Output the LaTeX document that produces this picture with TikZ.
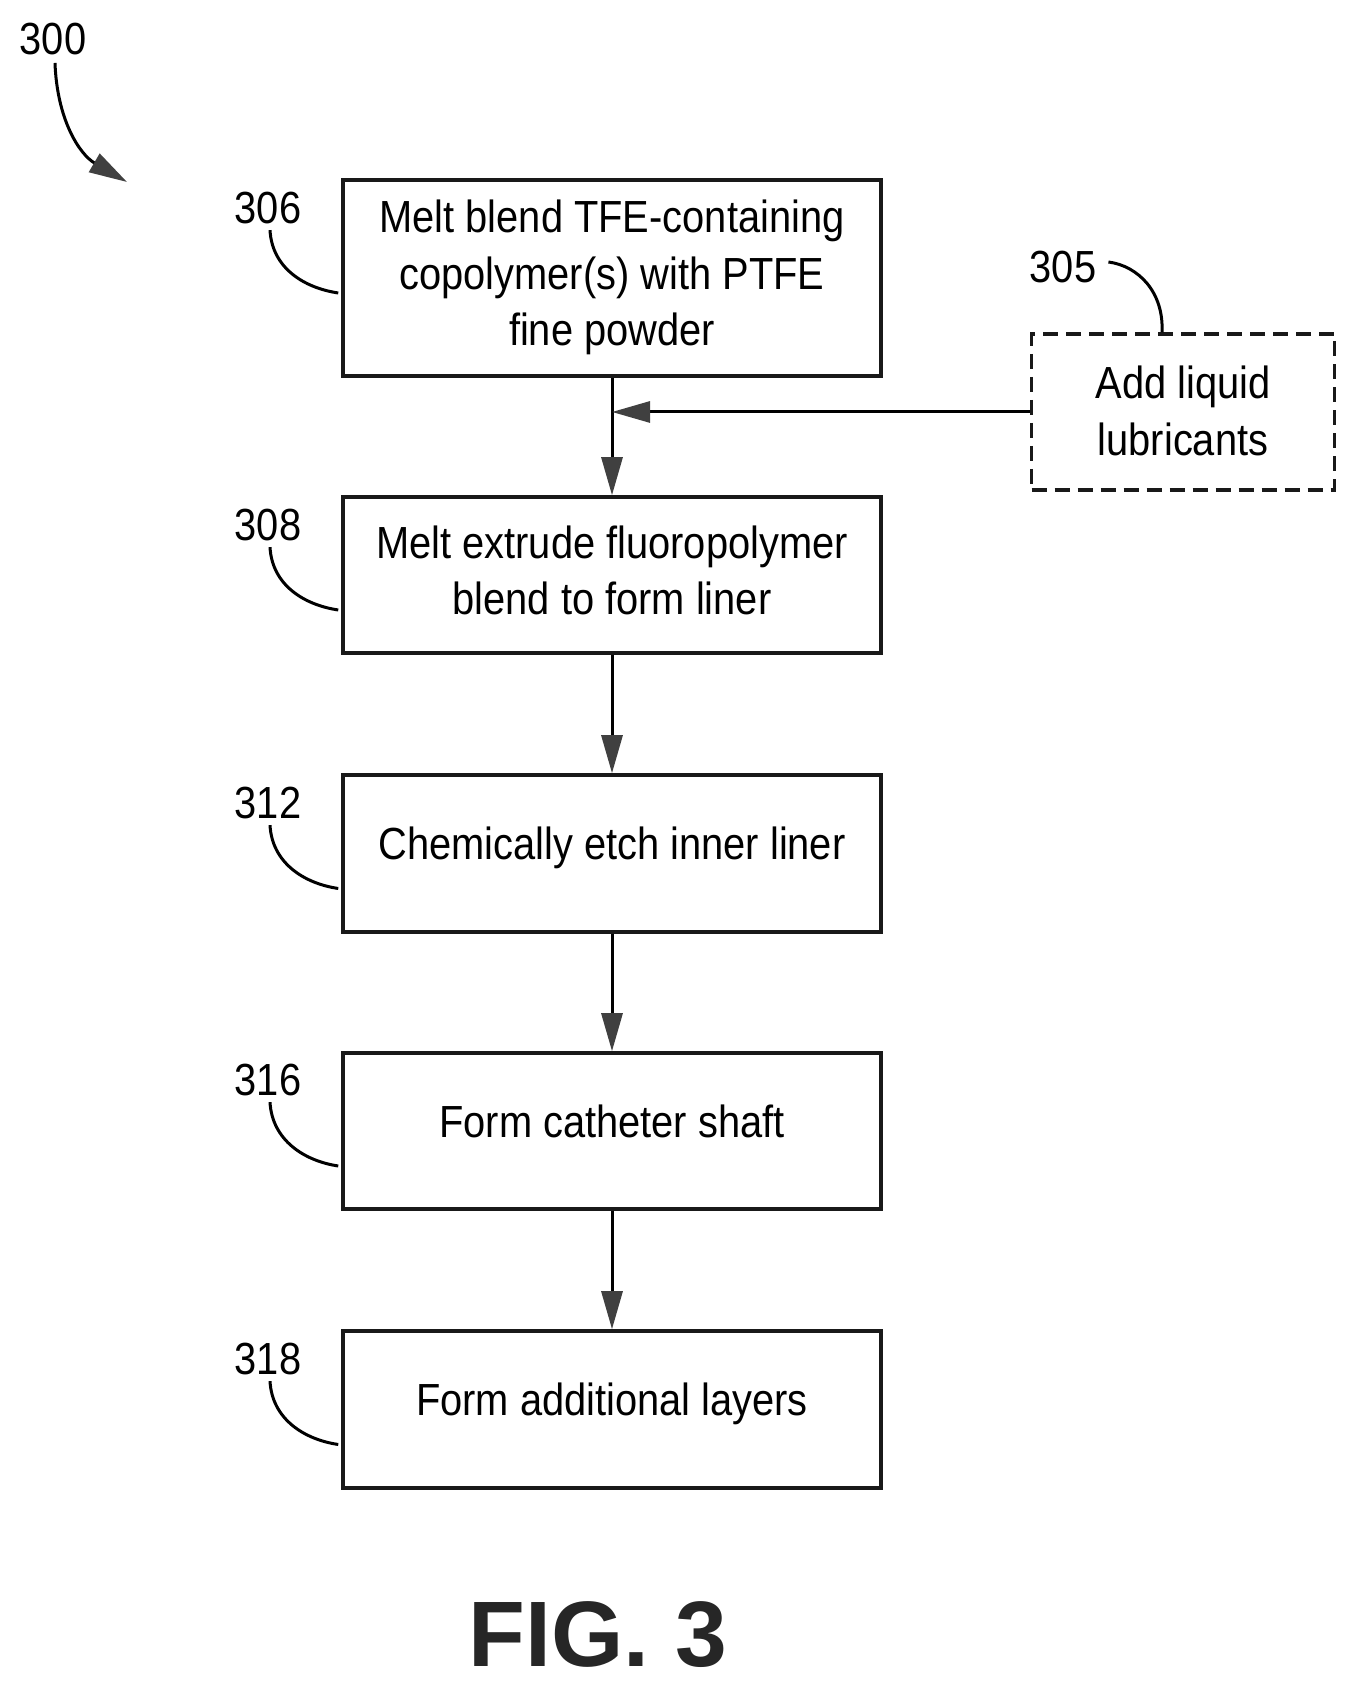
\documentclass[tikz,border=0pt]{standalone}
\usepackage{fontspec}
\setmainfont[FakeStretch=0.885]{Liberation Sans}
\newfontfamily\figfont{Liberation Sans}
\usetikzlibrary{arrows.meta, calc}

\tikzset{
  stepbox/.style={draw=black!90, line width=3.5pt, minimum width=538pt, inner sep=0pt},
  optbox/.style={draw=black!90, line width=3.5pt, dashed, dash pattern=on 15pt off 8pt, minimum width=303pt, minimum height=156pt, inner sep=0pt},
  reflabel/.style={inner sep=0pt},
  leader/.style={draw=black, line width=3pt},
  flow/.style={draw=black, line width=3pt, -{Triangle[length=38pt, width=21pt, color=black!75]}},
}

\begin{document}
\fontsize{45pt}{56.6pt}\selectfont
\renewcommand{\arraystretch}{1}
\setlength{\tabcolsep}{0pt}
\begin{tikzpicture}
\useasboundingbox (-1pt,1pt) rectangle (1355pt,1689pt);

%% Schritte %%%%%%%%%%%%%%%%%%%%%%%
\draw (611pt,1411pt) node (b306) [stepbox, minimum height=196pt]{
  \begin{tabular}{c}
    Melt blend TFE-containing\\ copolymer(s) with PTFE\\ fine powder
  \end{tabular}};

\draw (611pt,1114pt) node (b308) [stepbox, minimum height=156pt]{
  \begin{tabular}{c}
    Melt extrude fluoropolymer\\ blend to form liner
  \end{tabular}};

\draw (611pt,835.5pt) node (b312) [stepbox, minimum height=157pt]{
  \begin{tabular}{c}
    Chemically etch inner liner\rule[-28pt]{0pt}{0pt}
  \end{tabular}};

\draw (611pt,558pt) node (b316) [stepbox, minimum height=156pt]{
  \begin{tabular}{c}
    Form catheter shaft\rule[-26pt]{0pt}{0pt}
  \end{tabular}};

\draw (611pt,279.5pt) node (b318) [stepbox, minimum height=157pt]{
  \begin{tabular}{c}
    Form additional layers\rule[-28pt]{0pt}{0pt}
  \end{tabular}};

\draw (1182pt,1277pt) node (b305) [optbox]{
  \begin{tabular}{c}
    Add liquid\rule{0pt}{47pt}\\ lubricants
  \end{tabular}};

%% Labels
\draw (52pt,1650pt) node (l300) [reflabel]{300};
\draw (267pt,1481pt) node (l306) [reflabel]{306};
\draw (267pt,1164pt) node (l308) [reflabel]{308};
\draw (267pt,886pt) node (l312) [reflabel]{312};
\draw (267pt,609pt) node (l316) [reflabel]{316};
\draw (267pt,330pt) node (l318) [reflabel]{318};
\draw (1062pt,1422pt) node (l305) [reflabel]{305};

%% Figure
\draw (597pt,54pt) node (fig) [inner sep=0pt, text=black!85]{\figfont\bfseries\fontsize{93pt}{93pt}\selectfont FIG. 3};

%% Free ends
\coordinate (e300) at (126pt,1507pt);

%% Connectors
\draw[flow] (b306) -- (b308);
\draw[flow] (b308) -- (b312);
\draw[flow] (b312) -- (b316);
\draw[flow] (b316) -- (b318);
\draw[flow] (b305.west) -- (b306.south |- b305.west);

%% Leaders
\draw[flow] (54pt,1626pt) .. controls (56pt,1570pt) and (78pt,1535pt) .. (e300);
\draw[leader] ($(l306.south)+(2pt,-6pt)$) .. controls +(2pt,-38pt) and +(-34pt,5pt) .. ($(b306.west)+(-3pt,-15pt)$);
\draw[leader] ($(l308.south)+(2pt,-6pt)$) .. controls +(2pt,-38pt) and +(-34pt,5pt) .. ($(b308.west)+(-3pt,-35pt)$);
\draw[leader] ($(l312.south)+(2pt,-6pt)$) .. controls +(2pt,-38pt) and +(-34pt,5pt) .. ($(b312.west)+(-3pt,-35pt)$);
\draw[leader] ($(l316.south)+(2pt,-6pt)$) .. controls +(2pt,-38pt) and +(-34pt,5pt) .. ($(b316.west)+(-3pt,-35pt)$);
\draw[leader] ($(l318.south)+(2pt,-6pt)$) .. controls +(2pt,-38pt) and +(-34pt,5pt) .. ($(b318.west)+(-3pt,-35pt)$);
\draw[leader] ($(l305.east)+(12pt,5pt)$) .. controls +(30pt,-4pt) and +(2pt,40pt) .. ($(b305.north)+(-21pt,0pt)$);

\end{tikzpicture}
\end{document}
